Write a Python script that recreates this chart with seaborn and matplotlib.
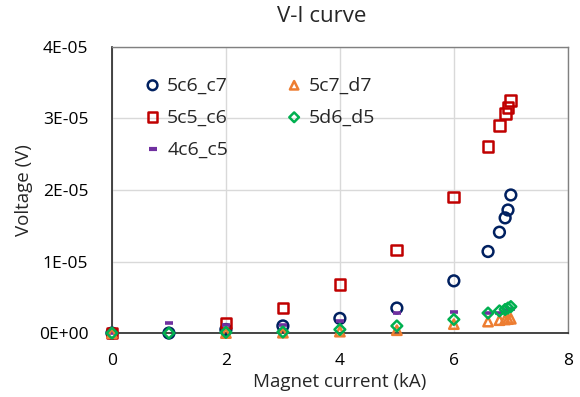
import numpy as np
import pandas as pd
import matplotlib
matplotlib.use("Agg")
import matplotlib.pyplot as plt
import seaborn as sns

current = [0, 1, 2, 3, 4, 5, 6, 6.6, 6.8, 6.9, 6.95, 7.0]
v_5c6_c7 = [0, 0, 0.5e-6, 1.0e-6, 2.05e-6, 3.5e-6, 7.3e-6, 1.14e-5, 1.41e-5, 1.61e-5, 1.72e-5, 1.93e-5]
v_5c5_c6 = [0, np.nan, 1.4e-6, 3.5e-6, 6.8e-6, 1.16e-5, 1.9e-5, 2.61e-5, 2.9e-5, 3.07e-5, 3.15e-5, 3.25e-5]
v_4c6_c5 = [0, 1.35e-6, 1.1e-6, 1.1e-6, 1.7e-6, 2.75e-6, 2.9e-6, 2.75e-6, 2.75e-6, 3.0e-6, 3.2e-6, 3.3e-6]
v_5c7_d7 = [0, np.nan, 0, 0.05e-6, 0.2e-6, 0.4e-6, 1.25e-6, 1.6e-6, 1.8e-6, 1.9e-6, 1.95e-6, 2.0e-6]
v_5d6_d5 = [0, 0, 0.1e-6, 0.15e-6, 0.5e-6, 1.0e-6, 1.9e-6, 2.8e-6, 3.1e-6, 3.3e-6, 3.5e-6, 3.7e-6]

series_names = ["5c6_c7", "5c5_c6", "4c6_c5", "5c7_d7", "5d6_d5"]
series_values = [v_5c6_c7, v_5c5_c6, v_4c6_c5, v_5c7_d7, v_5d6_d5]
colors = ["#002060", "#C00000", "#7030A0", "#ED7D31", "#00B050"]
markers = ["o", "s", "_", "^", "D"]
sizes = [60, 60, 40, 45, 30]

sns.set_theme(style="white")
plt.rcParams['font.family'] = ['Open Sans', 'DejaVu Sans']

fig, ax = plt.subplots(figsize=(5.8, 3.97), dpi=100)
fig.subplots_adjust(left=0.193, right=0.979, top=0.882, bottom=0.161)

for name, vals, c, m, s in zip(series_names, series_values, colors, markers, sizes):
    df = pd.DataFrame({"x": current, "y": vals}).dropna()
    if m == "_":
        sns.scatterplot(data=df, x="x", y="y", ax=ax, marker=m, s=s,
                        color=c, linewidths=2.6, label=name, zorder=3, clip_on=False)
    else:
        sns.scatterplot(data=df, x="x", y="y", ax=ax, marker=m, s=s,
                        facecolors="none", edgecolor=c, linewidth=1.8,
                        label=name, zorder=3, clip_on=False)

ax.set_xlim(0, 8)
ax.set_ylim(0, 4e-5)
ax.set_xticks([0, 2, 4, 6, 8])
ax.set_yticks([0, 1e-5, 2e-5, 3e-5, 4e-5])
ax.set_yticklabels(["0E+00", "1E-05", "2E-05", "3E-05", "4E-05"])
ax.grid(True, color="#D9D9D9", linewidth=1)
ax.set_axisbelow(True)
for sp in ["top", "right"]:
    ax.spines[sp].set_color("#808080")
    ax.spines[sp].set_linewidth(1.0)
for sp in ["left", "bottom"]:
    ax.spines[sp].set_color("#262626")
    ax.spines[sp].set_linewidth(1.2)
ax.tick_params(axis="both", labelsize=12.5, colors="black", length=0)
ax.tick_params(axis="x", pad=14)
ax.tick_params(axis="y", pad=17)
ax.set_xlabel("Magnet current (kA)", fontsize=13.5, labelpad=3)
ax.set_ylabel("Voltage (V)", fontsize=13.5, labelpad=4)
fig.text(322 / 580, 1 - 16 / 397, "V-I curve", fontsize=16, ha="center", va="center")

leg = ax.legend(loc="upper left", ncol=2, frameon=False, fontsize=14,
                handlelength=0.8, handletextpad=0.35, columnspacing=3.0,
                borderaxespad=0, bbox_to_anchor=(0.055, 0.924),
                labelspacing=0.72, markerscale=0.9)
for h in leg.legend_handles:
    h.set_linewidths(1.8)
leg.legend_handles[2].set_sizes([30])
leg.legend_handles[2].set_linewidths(3.0)

fig.savefig("out.png", dpi=100)
